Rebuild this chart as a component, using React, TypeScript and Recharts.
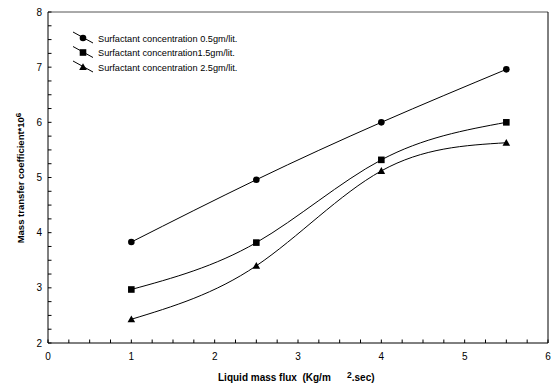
import { LineChart, Line, XAxis, YAxis, ReferenceLine } from "recharts"

const fluxValues = [1, 2.5, 4, 5.5]
const conc05 = [3.83, 4.96, 6.0, 6.96]
const conc15 = [2.97, 3.82, 5.32, 6.0]
const conc25 = [2.43, 3.4, 5.12, 5.63]
const seriesNames = [
  "Surfactant concentration 0.5gm/lit.",
  "Surfactant concentration1.5gm/lit.",
  "Surfactant concentration 2.5gm/lit.",
]
const xTicks = Array.from({ length: 25 }, (_, i) => i * 0.25)
const yTicks = Array.from({ length: 25 }, (_, i) => 2 + i * 0.25)

const data = fluxValues.map((x, i) => ({ x, a: conc05[i], b: conc15[i], c: conc25[i] }))

const FONT = "Liberation Sans, Arial, sans-serif"

const Circle = (props: any) => <circle cx={props.cx} cy={props.cy} r={3.3} fill="#000" />
const Square = (props: any) => <rect x={props.cx - 3.3} y={props.cy - 3.3} width={6.6} height={6.6} fill="#000" />
const Triangle = (props: any) => (
  <path d={`M${props.cx},${props.cy - 3.8} L${props.cx + 3.8},${props.cy + 3} L${props.cx - 3.8},${props.cy + 3} Z`} fill="#000" />
)

const XTick = (props: any) => {
  const { x, y, payload } = props
  const v = payload.value
  const major = Math.abs(v - Math.round(v)) < 1e-6
  return (
    <g>
      <line x1={x} y1={y} x2={x} y2={y - 3.5} stroke="#000" />
      {major && (
        <text x={x} y={y + 17} textAnchor="middle" fontSize={10} fontFamily={FONT} fill="#000">
          {Math.round(v)}
        </text>
      )}
    </g>
  )
}

const YTick = (props: any) => {
  const { x, y, payload } = props
  const v = payload.value
  const major = Math.abs(v - Math.round(v)) < 1e-6
  return (
    <g>
      <line x1={x} y1={y} x2={x + 3.5} y2={y} stroke="#000" />
      {major && (
        <text x={x - 6} y={y + 3.5} textAnchor="end" fontSize={10} fontFamily={FONT} fill="#000">
          {Math.round(v)}
        </text>
      )}
    </g>
  )
}

const markers = [Circle, Square, Triangle]

const LegendBox = () => (
  <svg width={240} height={50} style={{ position: "absolute", left: 71, top: 30 }}>
    {seriesNames.map((name, i) => {
      const y = 8 + i * 14.5
      const M = markers[i]
      return (
        <g key={name}>
          <line x1={2} y1={y - 6} x2={22} y2={y + 5} stroke="#000" />
          <M cx={12} cy={y} />
          <text x={27} y={y + 3.5} fontSize={9.2} fontFamily={FONT} fill="#000">
            {name}
          </text>
        </g>
      )
    })}
  </svg>
)

export default function App() {
  return (
    <div style={{ position: "absolute", left: 0, top: 0, background: "#fff" }}>
      <LineChart width={552} height={387} data={data} margin={{ top: 12, right: 4, left: 0, bottom: 0 }}>
        <XAxis
          dataKey="x"
          type="number"
          domain={[0, 6]}
          ticks={xTicks}
          interval={0}
          tickSize={0}
          tickMargin={0}
          height={44}
          stroke="#000"
          tick={<XTick />}
          label={{
            content: () => (
              <text y={381} fontSize={10} fontWeight="bold" fontFamily={FONT} fill="#000" style={{ whiteSpace: "pre" }}>
                <tspan x={218}>Liquid mass flux  (Kg/m</tspan>
                <tspan x={347} dy={-3} fontSize={8.5}>2</tspan>
                <tspan dy={3}>.sec)</tspan>
              </text>
            ),
          }}
        />
        <YAxis
          type="number"
          domain={[2, 8]}
          ticks={yTicks}
          interval={0}
          tickSize={0}
          tickMargin={0}
          width={48}
          stroke="#000"
          tick={<YTick />}
          label={{
            content: () => (
              <text
                transform="translate(24,178) rotate(-90)"
                textAnchor="middle"
                fontSize={9.5}
                fontWeight="bold"
                fontFamily={FONT}
                fill="#000"
              >
                Mass transfer coefficient*10
                <tspan dy={-3} fontSize={8}>6</tspan>
              </text>
            ),
          }}
        />
        <ReferenceLine y={8} stroke="#555" />
        <ReferenceLine x={6} stroke="#000" />
        <Line type="natural" dataKey="a" name={seriesNames[0]} stroke="#000" strokeWidth={1} dot={<Circle />} activeDot={false} isAnimationActive={false} />
        <Line type="natural" dataKey="b" name={seriesNames[1]} stroke="#000" strokeWidth={1} dot={<Square />} activeDot={false} isAnimationActive={false} />
        <Line type="natural" dataKey="c" name={seriesNames[2]} stroke="#000" strokeWidth={1} dot={<Triangle />} activeDot={false} isAnimationActive={false} />
      </LineChart>
      <LegendBox />
    </div>
  )
}
